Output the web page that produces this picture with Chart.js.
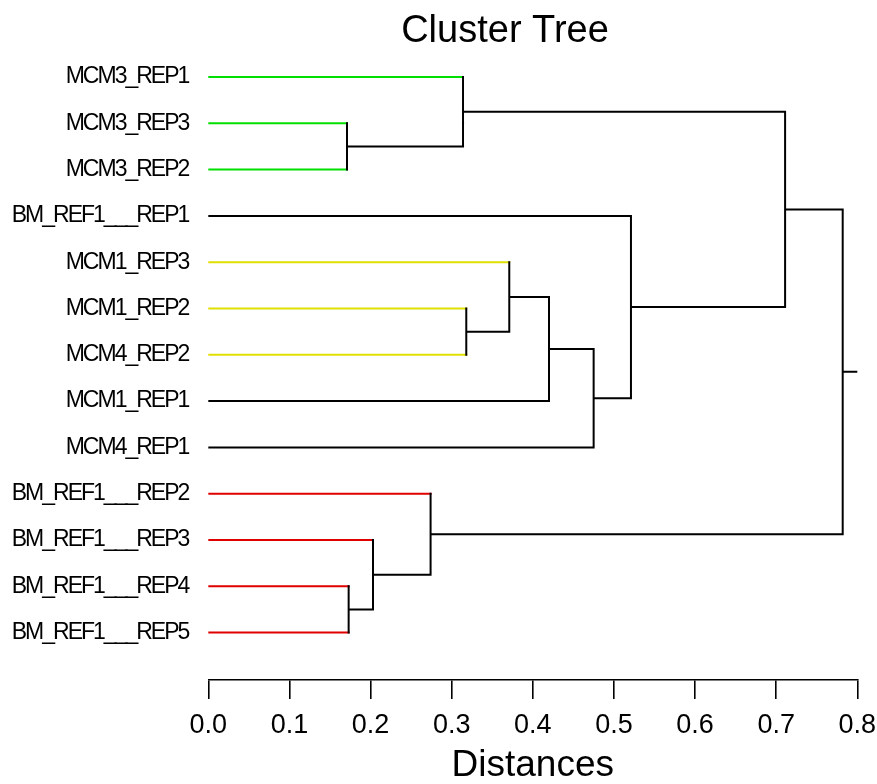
<!DOCTYPE html>
<html>
<head>
<meta charset="utf-8">
<script src="https://cdn.jsdelivr.net/npm/chart.js@4.4.0/dist/chart.umd.min.js"></script>
<style>
html,body{margin:0;padding:0;background:#ffffff;overflow:hidden}
#wrap{width:877px;height:784px;position:relative}
</style>
</head>
<body>
<div id="wrap"><canvas id="c"></canvas></div>
<script>
// ---- data ----
const leafLabels = [
  'MCM3_REP1','MCM3_REP3','MCM3_REP2','BM_REF1___REP1',
  'MCM1_REP3','MCM1_REP2','MCM4_REP2','MCM1_REP1','MCM4_REP1',
  'BM_REF1___REP2','BM_REF1___REP3','BM_REF1___REP4','BM_REF1___REP5'
];
// cluster membership of each leaf (0 = unclustered)
const leafCluster = [1,1,1,0,2,2,2,0,0,3,3,3,3];
// linkage: indices < 13 are leaves, 13+k is the k-th merge
const mergeLeft   = [1, 11, 10,  9,  0,  5,  4,  7,  8,  3, 17, 23];
const mergeRight  = [2, 12, 14, 15, 13,  6, 18, 19, 20, 21, 22, 16];
const mergeHeight = [0.171,0.173,0.203,0.274,0.314,0.318,0.371,0.420,0.475,0.521,0.711,0.782];
const xTicks = [0.0,0.1,0.2,0.3,0.4,0.5,0.6,0.7,0.8];

// ---- styles ----
const FONT = "'Liberation Sans', Arial, sans-serif";
const clusterColor = ['#000000', '#00e000', '#e0e000', '#e00000'];

// ---- build dendrogram segments from the linkage ----
const N = leafLabels.length;
const nodeX = [], nodeY = [];
for (let i = 0; i < N; i++) { nodeX[i] = 0; nodeY[i] = i; }
const segs = clusterColor.map(() => []);
const GAP = {x: null, y: null};
mergeHeight.forEach((h, k) => {
  const a = mergeLeft[k], b = mergeRight[k];
  [a, b].forEach(c => {
    const g = c < N ? leafCluster[c] : 0;
    segs[g].push({x: nodeX[c], y: nodeY[c]}, {x: h, y: nodeY[c]}, GAP);
  });
  segs[0].push({x: h, y: nodeY[a]}, {x: h, y: nodeY[b]}, GAP);
  nodeX[N + k] = h;
  nodeY[N + k] = (nodeY[a] + nodeY[b]) / 2;
});
const root = N + mergeHeight.length - 1;
segs[0].push({x: nodeX[root], y: nodeY[root]}, {x: xTicks[xTicks.length - 1], y: nodeY[root]});

const datasets = segs.map((d, i) => ({
  data: d,
  showLine: true,
  spanGaps: false,
  borderColor: clusterColor[i],
  borderWidth: 2,
  pointRadius: 0,
  borderCapStyle: 'square',
  tension: 0,
  order: i === 0 ? 0 : 1
}));

const condensedLabels = {
  id: 'condensedLabels',
  beforeDraw(chart) {
    const s = chart.scales.y;
    if (s && !s._patched) {
      const orig = s.drawLabels;
      s._computeLabelArea = function () { return undefined; };
      s.drawLabels = function (area) {
        const c = this.ctx;
        c.save();
        c.letterSpacing = '-2px';
        orig.call(this, area);
        c.restore();
      };
      s._patched = true;
    }
  }
};

const PAD_LEFT = 152.7;

new Chart(document.getElementById('c'), {
  type: 'scatter',
  data: { datasets },
  plugins: [condensedLabels],
  options: {
    responsive: true,
    maintainAspectRatio: false,
    animation: false,
    devicePixelRatio: 1,
    layout: { padding: { left: PAD_LEFT, right: 19.7, top: 0, bottom: 0 } },
    plugins: {
      legend: { display: false },
      tooltip: { enabled: false },
      title: {
        display: true,
        text: 'Cluster Tree',
        color: '#000',
        font: { family: FONT, size: 38, weight: 'normal', lineHeight: 1.2 },
        padding: { top: 9, bottom: 0 }
      }
    },
    scales: {
      x: {
        type: 'linear',
        position: 'bottom',
        min: xTicks[0],
        max: xTicks[xTicks.length - 1],
        afterBuildTicks: s => { s.ticks = xTicks.map(v => ({ value: v })); },
        afterFit: s => { s.paddingLeft = 0; s.paddingRight = 0; s.height = 104; },
        grid: { display: true, drawOnChartArea: false, drawTicks: true, tickLength: 19, color: '#000', lineWidth: 1.6 },
        border: { display: true, color: '#000', width: 1.6 },
        ticks: {
          color: '#000', font: { family: FONT, size: 27 }, padding: 10,
          maxRotation: 0, autoSkip: false,
          callback: v => Number(v).toFixed(1)
        },
        title: {
          display: true, text: 'Distances', color: '#000',
          font: { family: FONT, size: 37, lineHeight: 1.0 }, padding: { top: 0, bottom: 0 }
        }
      },
      y: {
        type: 'linear',
        reverse: true,
        min: -0.484,
        max: 13.024,
        afterBuildTicks: s => { s.ticks = leafLabels.map((_, i) => ({ value: i })); },
        afterFit: s => { s.width = 208.3 - PAD_LEFT; s.paddingTop = 0; s.paddingBottom = 0; },
        grid: { display: false, drawTicks: false },
        border: { display: false },
        ticks: {
          color: '#000', font: { family: FONT, size: 23 }, padding: 20, autoSkip: false,
          callback: v => leafLabels[v]
        }
      }
    }
  }
});
</script>
</body>
</html>
